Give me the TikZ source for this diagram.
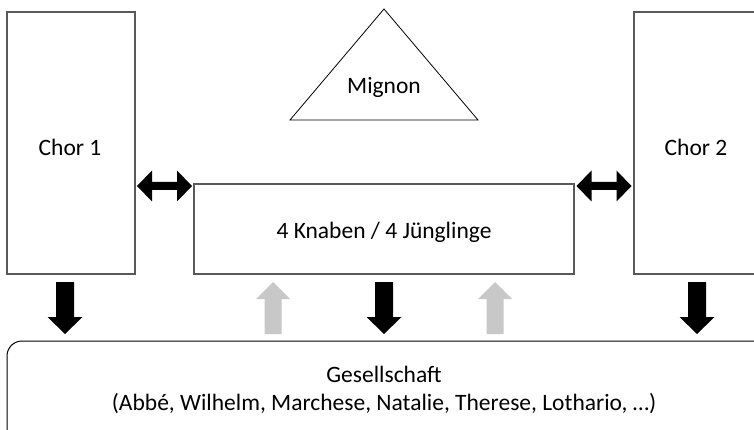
\documentclass[tikz,border=0pt]{standalone}
\usepackage{fontspec}
\setmainfont{Carlito}
\usetikzlibrary{calc}
\begin{document}
\begin{tikzpicture}[x=1pt,y=-1pt,
  font=\fontsize{23.5}{28}\selectfont,
  box/.style={draw=boxgray,line width=1.3pt,inner sep=0pt},
  label/.style={inner sep=0pt,align=center},
  downarrow/.pic={\fill[#1] (-9,0) -- (9,0) -- (9,35) -- (17.5,35) -- (0,52)
                  -- (-17.5,35) -- (-9,35) -- cycle;},
  uparrow/.pic={\fill[#1] (-8.5,0) -- (8.5,0) -- (8.5,-35) -- (17,-35) -- (0,-52)
                  -- (-17,-35) -- (-8.5,-35) -- cycle;},
  twoway/.pic={\fill (-27.5,0) -- (-12.5,-15.5) -- (-12.5,-4) -- (12.5,-4)
                  -- (12.5,-15.5) -- (27.5,0) -- (12.5,15.5) -- (12.5,4)
                  -- (-12.5,4) -- (-12.5,15.5) -- cycle;},
]
\definecolor{boxgray}{HTML}{595959}
\definecolor{lightarrow}{HTML}{C8C8C8}
\useasboundingbox (0,0) rectangle (754,430);
\clip (0,0) rectangle (754,430);

% choirs and the boys' group
\node[box,minimum width=128pt,minimum height=262pt] (chor1) at (71,143) {};
\node[label] (chor1text) at (70,147) {Chor 1};
\node[box,minimum width=128pt,minimum height=262pt] (chor2) at (698,143) {};
\node[label] (chor2text) at (696,147) {Chor 2};
\node[box,minimum width=380pt,minimum height=90pt] (knaben) at (384,229) {};
\node[label] (knabentext) at (384,232) {4 Knaben / 4 J\"unglinge};

% Mignon
\draw[line width=0.8pt] (384,9) -- (478,120) -- (290,120) -- cycle;
\node[label] (mignon) at (384,87) {Mignon};

% society
\draw[line width=1pt,rounded corners=15pt] (7,341) rectangle (775,450);
\node[label] (gesellschaft) at (384,390) {Gesellschaft\\(Abbé, Wilhelm, Marchese, Natalie, Therese, Lothario, …)};

% exchange between choirs and boys
\pic at ($(chor1.east)!0.5!(knaben.west)$) {twoway};
\pic at ($(knaben.east)!0.5!(chor2.west)$) {twoway};

% influence on society
\pic at (65,282) {downarrow};
\pic at (384,282) {downarrow};
\pic at (697,282) {downarrow};
\pic at (273,334) {uparrow=lightarrow};
\pic at (495,334) {uparrow=lightarrow};
\end{tikzpicture}
\end{document}
